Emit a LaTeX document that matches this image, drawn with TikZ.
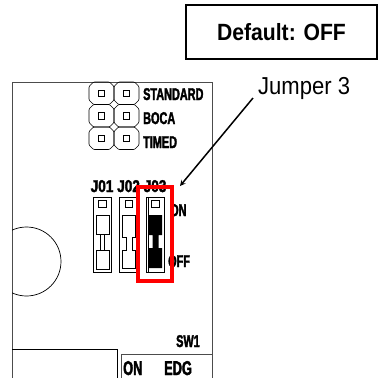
\documentclass[tikz,border=0pt]{standalone}
\usepackage{fontspec}
\setmainfont{Liberation Sans}
\newfontfamily\boardfont[FakeStretch=0.64, FakeBold=2]{Liberation Sans}
\newfontfamily\pinfont[FakeStretch=0.8, FakeBold=2]{Liberation Sans}
\newfontfamily\notefont[FakeStretch=0.9]{Liberation Sans}
\usetikzlibrary{arrows, positioning}

\begin{document}
\begin{tikzpicture}[x=1pt, y=-1pt,
    hole/.style={rectangle, minimum size=6.5pt, inner sep=0pt, draw=black, line width=0.6pt},
    jblock/.style={rectangle, minimum width=18.5pt, minimum height=75pt, inner sep=0pt, draw=black, line width=0.7pt},
    lbl/.style={anchor=base west, inner sep=0pt, font={\boardfont\bfseries\fontsize{17pt}{18pt}\selectfont}},
    note/.style={inner sep=0pt, font={\notefont\fontsize{24.5pt}{26pt}\selectfont}},
    redbox/.style={rectangle, minimum width=34pt, minimum height=94pt, inner sep=0pt, draw=red, line width=4pt},
    arrow/.style={->, >=stealth, line width=1.5pt}]

    \useasboundingbox (0,0) rectangle (384,378);

    % Board outline
    \draw[line width=0.8pt, black!70] (12,378) -- (12,82) -- (212,82) -- (212,378);
    \begin{scope}
        \clip (12,82) rectangle (212,378);
        \draw[line width=0.7pt] (26.5,261.5) circle (34.5);
    \end{scope}
    \draw[line width=0.7pt] (12,349) -- (117,349) -- (117,378);
    \draw[line width=0.7pt, black!70] (121,378) -- (121,354) -- (212,354);

    % Mode header
    \foreach \r/\name in {0/STANDARD, 1/BOCA, 2/TIMED} {
        \foreach \c in {0,1} {
            \coordinate (h\r\c) at (101.5+25*\c,93.25+22.5*\r);
            \draw[line width=0.6pt, rounded corners=1pt, shift={(h\r\c)}]
                (-8,-11.25) -- (8,-11.25) -- (12.5,-6.75) -- (12.5,6.75) -- (8,11.25)
                -- (-8,11.25) -- (-12.5,6.75) -- (-12.5,-6.75) -- cycle;
            \node[hole] at (h\r\c) {};
        }
        \node[lbl] (m\r) at (143,100+24*\r) {\name};
    }

    % Jumpers
    \foreach \x [count=\i] in {102.5,129,155.5} {
        \node[jblock] (j\i) at (\x,234.5) {};
        \node[hole, minimum size=7.5pt] (t\i) at (\x,204) {};
        \node[lbl, font={\pinfont\bfseries\fontsize{17pt}{18pt}\selectfont}] (n\i) at (\x-12,192) {J0\i};
    }
    \draw[line width=0.7pt] (96,215) rectangle (109,234)
        (100.5,234) rectangle (104.5,250)
        (96,250) rectangle (109,269);
    \draw[line width=0.7pt] (122.5,215) -- (135.5,215) -- (135.5,237.5) -- (132,237.5) -- (132,250)
        -- (135.5,250) -- (135.5,268) -- (122.5,268) -- (122.5,250) -- (126,250)
        -- (126,237.5) -- (122.5,237.5) -- cycle;
    \draw[line width=0.7pt] (148,197) -- (148,272);
    \fill (149,215) -- (162,215) -- (162,235) -- (158.5,235) -- (158.5,248) -- (162,248)
        -- (162,268) -- (149,268) -- (149,248) -- (152.5,248) -- (152.5,235) -- (149,235) -- cycle;

    \node[lbl] (on) at (170,216) {ON};
    \node[lbl] (off) at (168,267) {OFF};
    \node[lbl] (sw) at (176,347) {SW1};
    \node[lbl, font={\boardfont\bfseries\fontsize{20pt}{22pt}\selectfont}] (swon) at (123,375) {ON};
    \node[lbl, font={\boardfont\bfseries\fontsize{20pt}{22pt}\selectfont}] (edg) at (164,375) {EDG};

    % Selected jumper
    \node[redbox] (sel) at (155,234) {};

    % Notes
    \node[note, draw=black, line width=2pt, minimum width=191pt, minimum height=54pt,
          font={\notefont\bfseries\fontsize{23.5pt}{25pt}\selectfont}] (default) at (281.5,32) {Default: OFF};
    \node[note, anchor=base west] (jlabel) at (258,94) {Jumper 3};
    \coordinate (tip) at (180,186);
    \draw[arrow] ([shift={(-5pt,-4pt)}]jlabel.base west) -- (tip);

\end{tikzpicture}
\end{document}
